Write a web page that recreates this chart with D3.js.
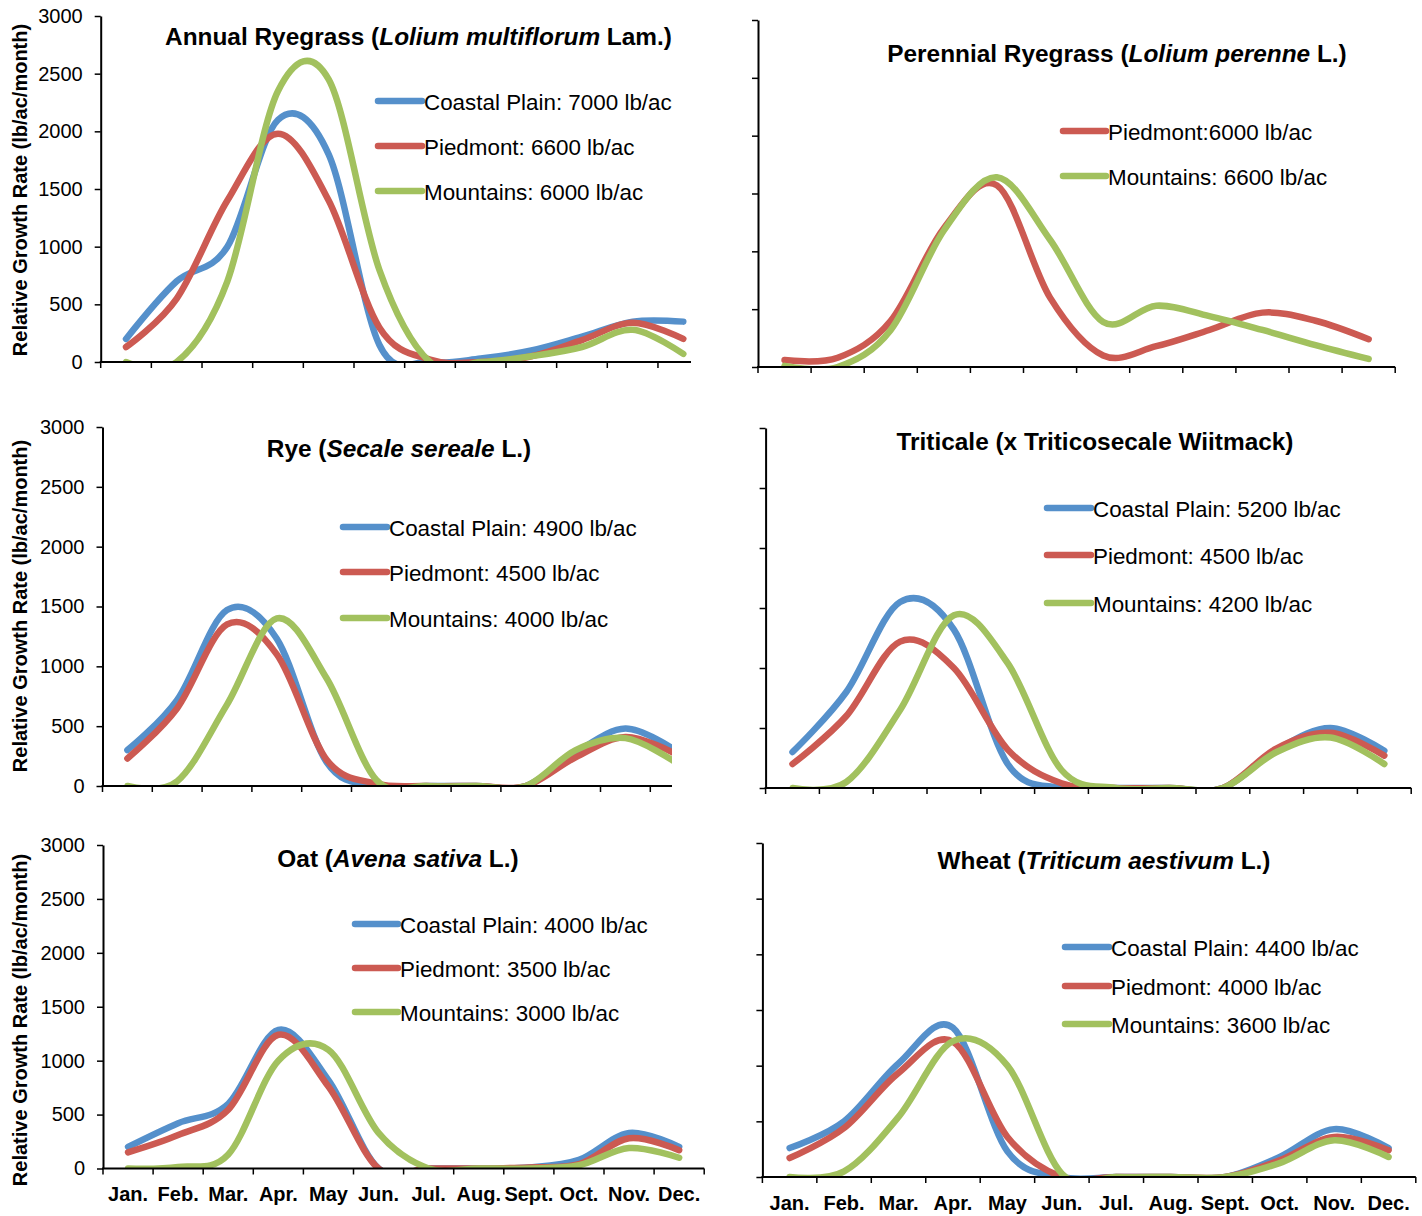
<!DOCTYPE html>
<html><head><meta charset="utf-8">
<script src="https://cdn.jsdelivr.net/npm/d3@7"></script>
<style>
body{margin:0;background:#fff}
svg{display:block}
text{font-family:"Liberation Sans",Arial,Helvetica,sans-serif;fill:#000}
</style>
</head><body>
<svg id="chart" width="1422" height="1216"></svg>
<script>
// ---------- data ----------
const months = ["Jan.","Feb.","Mar.","Apr.","May","Jun.","Jul.","Aug.","Sept.","Oct.","Nov.","Dec."];
const yTicks = [0, 500, 1000, 1500, 2000, 2500, 3000];
const yAxisTitle = "Relative Growth Rate (lb/ac/month)";

// Annual Ryegrass
const annualCoastal   = [200, 700, 1000, 2100, 1800, 150, 0, 30, 100, 220, 350, 350];
const annualPiedmont  = [130, 550, 1400, 1980, 1400, 300, 20, 0, 50, 190, 340, 200];
const annualMountains = [0, 0, 700, 2350, 2450, 800, 0, 0, 50, 130, 280, 70];
const annualLegend = ["Coastal Plain: 7000 lb/ac", "Piedmont: 6600 lb/ac", "Mountains: 6000 lb/ac"];

// Perennial Ryegrass
const perennialPiedmont  = [60, 80, 400, 1200, 1570, 600, 100, 180, 320, 470, 400, 240];
const perennialMountains = [10, 0, 320, 1180, 1640, 1100, 390, 530, 440, 320, 190, 70];
const perennialLegend = ["Piedmont:6000 lb/ac", "Mountains: 6600 lb/ac"];

// Rye
const ryeCoastal   = [300, 720, 1470, 1230, 200, 0, 0, 0, 0, 280, 480, 300];
const ryePiedmont  = [230, 650, 1350, 1100, 220, 20, 0, 0, 0, 240, 410, 270];
const ryeMountains = [0, 40, 680, 1400, 900, 50, 0, 0, 0, 300, 400, 200];
const ryeLegend = ["Coastal Plain: 4900 lb/ac", "Piedmont: 4500 lb/ac", "Mountains: 4000 lb/ac"];

// Triticale
const triticaleCoastal   = [300, 800, 1550, 1320, 200, 0, 0, 0, 0, 320, 500, 310];
const triticalePiedmont  = [200, 600, 1220, 1000, 320, 40, 0, 0, 0, 330, 460, 270];
const triticaleMountains = [0, 50, 650, 1440, 1040, 150, 0, 0, 0, 300, 420, 200];
const triticaleLegend = ["Coastal Plain: 5200 lb/ac", "Piedmont: 4500 lb/ac", "Mountains: 4200 lb/ac"];

// Oat
const oatCoastal   = [200, 420, 600, 1285, 820, 0, 0, 0, 10, 80, 330, 200];
const oatPiedmont  = [150, 310, 545, 1240, 760, 0, 0, 0, 10, 40, 280, 170];
const oatMountains = [0, 15, 130, 1000, 1100, 330, 0, 0, 0, 30, 190, 100];
const oatLegend = ["Coastal Plain: 4000 lb/ac", "Piedmont: 3500 lb/ac", "Mountains: 3000 lb/ac"];

// Wheat
const wheatCoastal   = [260, 500, 1020, 1340, 230, 0, 0, 0, 0, 180, 430, 260];
const wheatPiedmont  = [170, 440, 935, 1215, 360, 0, 0, 0, 0, 150, 360, 240];
const wheatMountains = [0, 50, 540, 1220, 1000, 30, 0, 0, 0, 125, 330, 180];
const wheatLegend = ["Coastal Plain: 4400 lb/ac", "Piedmont: 4000 lb/ac", "Mountains: 3600 lb/ac"];

// titles: [text, italic]
const annualTitle    = [["Annual Ryegrass (", false], ["Lolium multiflorum", true], [" Lam.)", false]];
const perennialTitle = [["Perennial Ryegrass (", false], ["Lolium perenne", true], [" L.)", false]];
const ryeTitle       = [["Rye (", false], ["Secale sereale", true], [" L.)", false]];
const triticaleTitle = [["Triticale (x Triticosecale Wiitmack)", false]];
const oatTitle       = [["Oat (", false], ["Avena sativa", true], [" L.)", false]];
const wheatTitle     = [["Wheat (", false], ["Triticum aestivum", true], [" L.)", false]];

// ---------- styles ----------
const colors = {coastal: "#5590CB", piedmont: "#CC5A52", mountains: "#A2C15E"};

// ---------- panel layout ----------
const panels = [
  {title: annualTitle, series: [[annualCoastal,"coastal"],[annualPiedmont,"piedmont"],[annualMountains,"mountains"]], legend: annualLegend,
   x0: 100.7, step: 50.66, xEnd: 691, yTop: 16, y0: 362, tx: 418.5, ty: 45, lx1: 378, lx2: 422, ly: [101, 146, 191],
   yLabels: true, xLabels: false, ytY: 190},
  {title: perennialTitle, series: [[perennialPiedmont,"piedmont"],[perennialMountains,"mountains"]], legend: perennialLegend,
   x0: 758, step: 53.1, xEnd: 1395.2, yTop: 20, y0: 367, tx: 1117, ty: 62, lx1: 1063, lx2: 1106, ly: [131, 176],
   yLabels: false, xLabels: false},
  {title: ryeTitle, series: [[ryeCoastal,"coastal"],[ryePiedmont,"piedmont"],[ryeMountains,"mountains"]], legend: ryeLegend,
   x0: 102.5, step: 49.8, xEnd: 672, yTop: 427, y0: 786, tx: 399, ty: 457, lx1: 343, lx2: 387, ly: [527, 572, 618],
   yLabels: true, xLabels: false, ytY: 606},
  {title: triticaleTitle, series: [[triticaleCoastal,"coastal"],[triticalePiedmont,"piedmont"],[triticaleMountains,"mountains"]], legend: triticaleLegend,
   x0: 765.6, step: 53.8, xEnd: 1411.2, yTop: 428, y0: 788, tx: 1095, ty: 450, lx1: 1047, lx2: 1091, ly: [508, 555, 603],
   yLabels: false, xLabels: false},
  {title: oatTitle, series: [[oatCoastal,"coastal"],[oatPiedmont,"piedmont"],[oatMountains,"mountains"]], legend: oatLegend,
   x0: 103, step: 50.1, xEnd: 704.2, yTop: 845, y0: 1168.5, tx: 398, ty: 867, lx1: 355, lx2: 398, ly: [924, 968, 1012],
   yLabels: true, xLabels: true, xlY: 1201, ytY: 1020},
  {title: wheatTitle, series: [[wheatCoastal,"coastal"],[wheatPiedmont,"piedmont"],[wheatMountains,"mountains"]], legend: wheatLegend,
   x0: 762.4, step: 54.45, xEnd: 1415.8, yTop: 843, y0: 1177, tx: 1104, ty: 869, lx1: 1065, lx2: 1109, ly: [947, 986, 1024],
   yLabels: false, xLabels: true, xlY: 1210}
];

const svg = d3.select("#chart");

panels.forEach((p, pi) => {
  const g = svg.append("g");
  const x = d3.scaleBand().domain(months).range([p.x0, p.x0 + p.step * months.length]).padding(0);
  const y = d3.scaleLinear().domain([0, 3000]).range([p.y0, p.yTop]);

  // clip
  const cid = "clip" + pi;
  svg.append("clipPath").attr("id", cid).append("rect")
    .attr("x", p.x0).attr("y", p.yTop - 30).attr("width", p.xEnd - p.x0).attr("height", p.y0 - p.yTop + 30);

  // lines
  const line = d3.line()
    .x((d, i) => x(months[i]) + x.bandwidth() / 2)
    .y(d => y(d))
    .curve(d3.curveCardinal.tension(0));
  const lg = g.append("g").attr("clip-path", `url(#${cid})`);
  p.series.forEach(([vals, key]) => {
    lg.append("path").datum(vals).attr("d", line)
      .attr("fill", "none").attr("stroke", colors[key]).attr("stroke-width", 6.5)
      .attr("stroke-linecap", "round").attr("stroke-linejoin", "round");
  });

  // y axis
  const ya = d3.axisLeft(y).tickValues(yTicks).tickSize(6).tickSizeOuter(0).tickPadding(12)
    .tickFormat(p.yLabels ? d3.format("d") : () => "");
  const yg = g.append("g").attr("transform", `translate(${p.x0},0)`).call(ya);
  yg.select(".domain").attr("stroke", "#000").attr("stroke-width", 2);
  yg.selectAll(".tick line").attr("stroke", "#000").attr("stroke-width", 1.5);
  yg.selectAll(".tick text").attr("font-size", 20).attr("font-family", '"Liberation Sans",Arial,sans-serif').attr("fill", "#000");

  // x axis
  g.append("line").attr("x1", p.x0 - 1).attr("x2", p.xEnd).attr("y1", p.y0).attr("y2", p.y0)
    .attr("stroke", "#000").attr("stroke-width", 2);
  const edges = d3.range(months.length + 1).map(i => x.range()[0] + i * x.step()).filter(v => v <= p.xEnd + 0.5);
  g.selectAll(".xt").data(edges).join("line")
    .attr("x1", d => d).attr("x2", d => d).attr("y1", p.y0).attr("y2", p.y0 + 6)
    .attr("stroke", "#000").attr("stroke-width", 1.5);

  if (p.xLabels) {
    g.selectAll(".xl").data(months).join("text")
      .attr("x", d => x(d) + x.bandwidth() / 2).attr("y", p.xlY)
      .attr("text-anchor", "middle").attr("font-size", 20).attr("font-weight", "bold")
      .text(d => d);
  }

  if (p.yLabels) {
    g.append("text")
      .attr("transform", `translate(27,${p.ytY}) rotate(-90)`)
      .attr("text-anchor", "middle").attr("font-size", 20).attr("font-weight", "bold")
      .text(yAxisTitle);
  }

  // title
  const t = g.append("text").attr("x", p.tx).attr("y", p.ty).attr("text-anchor", "middle")
    .attr("font-size", 24.4).attr("font-weight", "bold");
  p.title.forEach(([s, it]) => t.append("tspan").attr("font-style", it ? "italic" : "normal").text(s));

  // legend
  p.legend.forEach((lab, i) => {
    const key = p.series[i][1];
    g.append("line").attr("x1", p.lx1).attr("x2", p.lx2).attr("y1", p.ly[i]).attr("y2", p.ly[i])
      .attr("stroke", colors[key]).attr("stroke-width", 6.5).attr("stroke-linecap", "round");
    g.append("text").attr("x", p.lx2 + 2).attr("y", p.ly[i] + 9).attr("font-size", 22.4).text(lab);
  });
});
</script>
</body></html>
